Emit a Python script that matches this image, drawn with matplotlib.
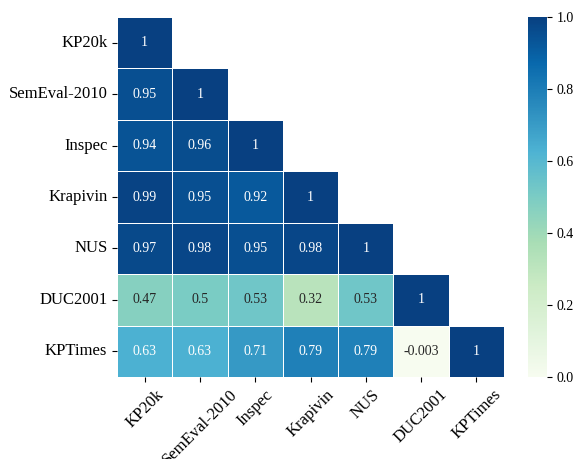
import numpy as np
import matplotlib
matplotlib.use("Agg")
import matplotlib.pyplot as plt
import seaborn as sns

plt.rcParams['font.family'] = ['Liberation Serif', 'DejaVu Serif']

# datasets and the lower triangle of the correlation matrix
datasets = ["KP20k", "SemEval-2010", "Inspec", "Krapivin", "NUS", "DUC2001", "KPTimes"]
row_kp20k = [1]
row_semeval = [0.95, 1]
row_inspec = [0.94, 0.96, 1]
row_krapivin = [0.99, 0.95, 0.92, 1]
row_nus = [0.97, 0.98, 0.95, 0.98, 1]
row_duc = [0.47, 0.5, 0.53, 0.32, 0.53, 1]
row_kptimes = [0.63, 0.63, 0.71, 0.79, 0.79, -0.003, 1]

lower = [row_kp20k, row_semeval, row_inspec, row_krapivin, row_nus, row_duc, row_kptimes]
n = len(datasets)
corr = np.zeros((n, n))
for i, row in enumerate(lower):
    for j, v in enumerate(row):
        corr[i, j] = v
        corr[j, i] = v

mask = np.triu(np.ones_like(corr, dtype=bool), k=1)

fig = plt.figure(figsize=(5.79, 4.59), dpi=100)
ax = fig.add_axes([0.2021, 0.1786, 0.6684, 0.7843])
cax = fig.add_axes([0.9119, 0.1786, 0.0328, 0.7843])

sns.heatmap(corr, mask=mask, cmap="GnBu", vmin=0, vmax=1, annot=True,
            annot_kws={"fontsize": 10}, linewidths=0.6, linecolor="white",
            xticklabels=datasets, yticklabels=datasets, ax=ax, cbar_ax=cax)

ax.set_xticklabels(datasets, rotation=45, fontsize=12)
ax.set_yticklabels(datasets, rotation=0, fontsize=12)
cax.tick_params(labelsize=10)

fig.savefig("out.png", dpi=100)
